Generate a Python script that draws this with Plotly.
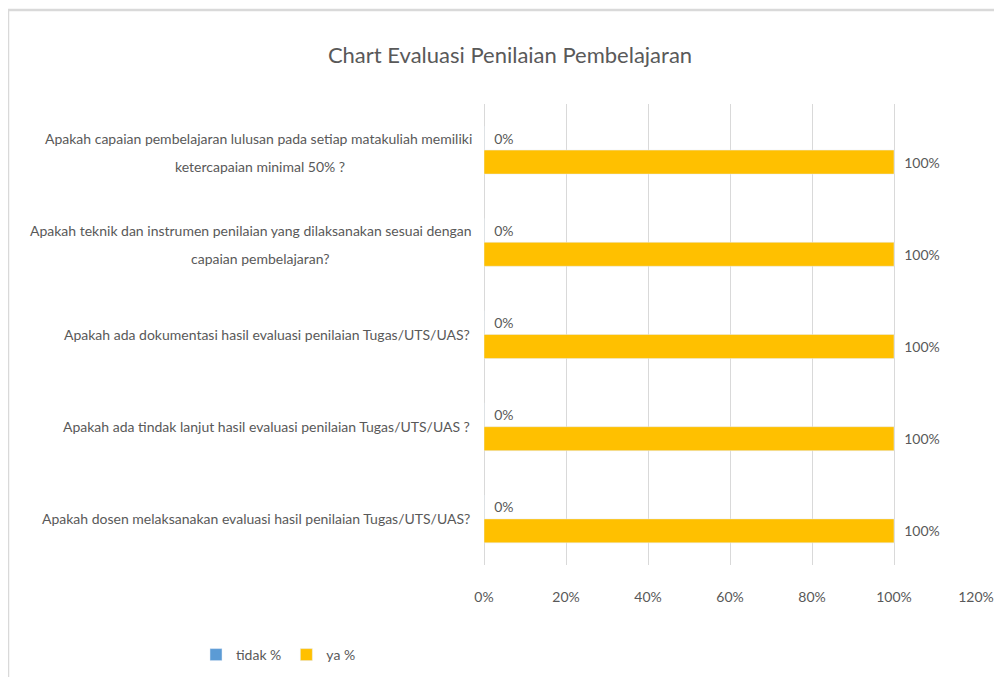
import plotly.graph_objects as go

# ---- data ----
categories = [
    "Apakah capaian pembelajaran lulusan pada setiap matakuliah memiliki<br>ketercapaian minimal 50% ?",
    "Apakah teknik dan instrumen penilaian yang dilaksanakan sesuai dengan<br>capaian pembelajaran?",
    "Apakah ada dokumentasi hasil evaluasi penilaian Tugas/UTS/UAS?",
    "Apakah ada tindak lanjut hasil evaluasi penilaian Tugas/UTS/UAS ?",
    "Apakah dosen melaksanakan evaluasi hasil penilaian Tugas/UTS/UAS?",
]
tidak_pct = [0.0, 0.0, 0.0, 0.0, 0.0]
ya_pct = [1.0, 1.0, 1.0, 1.0, 1.0]
series_names = ["tidak %", "ya %"]
x_ticks = [0, 0.2, 0.4, 0.6, 0.8, 1.0, 1.2]
title_text = "Chart Evaluasi Penilaian Pembelajaran"

FONT = "Lato, 'Open Sans', sans-serif"
GRAY = "#595959"
# page body has an 8px margin, so the figure is 8px smaller than the window
W, H = 994, 669
L, R, T, B = 476, 26, 96, 112

fig = go.Figure()
fig.add_trace(go.Bar(
    y=categories, x=tidak_pct, name=series_names[0], orientation="h",
    marker_color="#5B9BD5",
    text=["\u00a0\u00a0" + f"{v:.0%}" for v in tidak_pct],
    textposition="outside", cliponaxis=False,
    textfont=dict(family=FONT, size=14, color=GRAY),
))
fig.add_trace(go.Bar(
    y=categories, x=ya_pct, name=series_names[1], orientation="h",
    marker_color="#FFC000",
    text=["\u00a0\u00a0" + f"{v:.0%}" for v in ya_pct],
    textposition="outside", cliponaxis=False,
    textfont=dict(family=FONT, size=14, color=GRAY),
))

annotations = []
for c in categories:
    lines = c.split("<br>")
    if len(lines) == 1:
        annotations.append(dict(
            x=0, xref="paper", y=c, yref="y", xanchor="right", yanchor="middle",
            xshift=-12, text=lines[0], showarrow=False,
            font=dict(family=FONT, size=14, color=GRAY),
        ))
    else:
        annotations.append(dict(
            x=0, xref="paper", y=c, yref="y", xanchor="right", yanchor="middle",
            xshift=-10, yshift=12, text=lines[0], showarrow=False,
            font=dict(family=FONT, size=14, color=GRAY),
        ))
        annotations.append(dict(
            x=0, xref="paper", y=c, yref="y", xanchor="center", yanchor="middle",
            xshift=-224, yshift=-16, text=lines[1], showarrow=False,
            font=dict(family=FONT, size=14, color=GRAY),
        ))

pw = W - L - R
ph = H - T - B
def px_x(px):
    return (px - L) / pw
def px_y(py):
    return (H - B - py) / ph

shapes = [
    dict(type="line", xref="paper", yref="paper", x0=px_x(-1), x1=px_x(W + 5),
         y0=px_y(2), y1=px_y(2), line=dict(color="#d9d9d9", width=2.5)),
    dict(type="line", xref="paper", yref="paper", x0=px_x(0), x1=px_x(0),
         y0=px_y(1), y1=px_y(H + 5), line=dict(color="#d9d9d9", width=2.5)),
]

fig.update_layout(
    width=W, height=H,
    margin=dict(l=L, r=R, t=T, b=B),
    paper_bgcolor="white", plot_bgcolor="white",
    barmode="group", bargap=0.48, bargroupgap=0,
    title=dict(text=title_text, x=502 / W, xref="container", xanchor="center",
               y=1 - 47 / H, yref="container", yanchor="middle",
               font=dict(family=FONT, size=22, color=GRAY)),
    font=dict(family=FONT, size=14, color=GRAY),
    showlegend=True,
    legend=dict(orientation="h", xref="container", yref="container",
                x=188 / W, xanchor="left", y=1 - 647 / H, yanchor="middle",
                font=dict(family=FONT, size=14, color=GRAY),
                itemwidth=30, traceorder="normal"),
    annotations=annotations,
    shapes=shapes,
)
fig.update_xaxes(range=[0, 1.2], tickvals=x_ticks, tickformat=".0%",
                 showgrid=True, gridcolor="#d9d9d9", gridwidth=1,
                 zeroline=True, zerolinecolor="#d9d9d9", zerolinewidth=1,
                 showline=False, ticks="", ticklabelstandoff=22, automargin=False,
                 tickfont=dict(family=FONT, size=14, color=GRAY), fixedrange=True)
fig.update_yaxes(autorange="reversed", showticklabels=False, showgrid=False,
                 zeroline=False, showline=False, ticks="", fixedrange=True,
                 automargin=False, type="category")

fig.write_html("out.html")
